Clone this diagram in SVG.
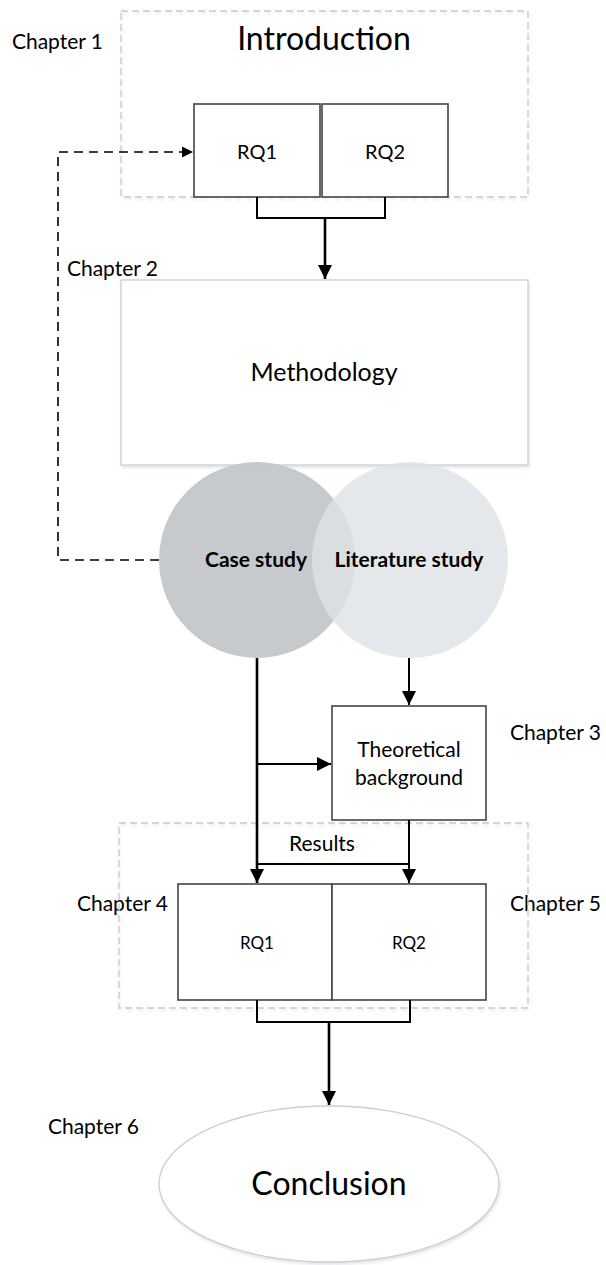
<svg xmlns="http://www.w3.org/2000/svg" width="606" height="1265" viewBox="0 0 606 1265">
  <style>
    text { font-family: Lato, "Open Sans", "Liberation Sans", sans-serif; fill: #000; }
    .chap { font-size: 21px; }
    .group { fill: none; stroke: #c9c9c9; stroke-width: 1.3; stroke-dasharray: 7 4; }
    .box { fill: #fff; stroke: #444; stroke-width: 1.6; }
    .wire { fill: none; stroke: #000; stroke-width: 2.6; }
    .thin { fill: none; stroke: #000; stroke-width: 2; }
    .dash { fill: none; stroke: #000; stroke-width: 1.6; stroke-dasharray: 9 6; }
    .mid { text-anchor: middle; }
  </style>
  <defs>
    <marker id="arrow" viewBox="0 0 10 10" refX="10" refY="5" markerWidth="5.5" markerHeight="5.5" markerUnits="strokeWidth" orient="auto">
      <path d="M0,0 L10,5 L0,10 z" fill="#000"/>
    </marker>
    <marker id="arrowSm" viewBox="0 0 10 10" refX="10" refY="5" markerWidth="7" markerHeight="7" markerUnits="strokeWidth" orient="auto">
      <path d="M0,0 L10,5 L0,10 z" fill="#000"/>
    </marker>
    <filter id="shadow" x="-5%" y="-5%" width="110%" height="110%">
      <feDropShadow dx="1" dy="2" stdDeviation="1.5" flood-color="#9fb4c8" flood-opacity="0.35"/>
    </filter>
  </defs>

  <!-- chapter labels -->
  <g id="chapter-labels">
    <text class="chap" x="12" y="49" textLength="91">Chapter 1</text>
    <text class="chap" x="67" y="276" textLength="91">Chapter 2</text>
    <text class="chap" x="510" y="740" textLength="91">Chapter 3</text>
    <text class="chap" x="77" y="911" textLength="91">Chapter 4</text>
    <text class="chap" x="510" y="911" textLength="91">Chapter 5</text>
    <text class="chap" x="48" y="1134" textLength="91">Chapter 6</text>
  </g>

  <!-- Chapter 1: introduction with research questions -->
  <g id="introduction">
    <rect class="group" x="121" y="11" width="407" height="186" filter="url(#shadow)"/>
    <text class="mid" x="324" y="50" font-size="32">Introduction</text>
  </g>
  <g id="intro-rq1">
    <rect class="box" x="194" y="104" width="126" height="93"/>
    <text class="mid" x="257" y="159" font-size="20">RQ1</text>
  </g>
  <g id="intro-rq2">
    <rect class="box" x="322" y="104" width="126" height="93"/>
    <text class="mid" x="385" y="159" font-size="20">RQ2</text>
  </g>

  <!-- Chapter 2: methodology -->
  <g id="methodology">
    <rect x="121" y="280" width="407" height="185" fill="#fff" stroke="#cfcfcf" stroke-width="1.3" filter="url(#shadow)"/>
    <text class="mid" x="324" y="381" font-size="25">Methodology</text>
  </g>

  <!-- study approaches -->
  <g id="case-study">
    <circle cx="257" cy="560" r="98" fill="#c4c7ca" fill-opacity="0.95"/>
  </g>
  <g id="literature-study">
    <circle cx="410" cy="560" r="98" fill="#dfe2e6" fill-opacity="0.8"/>
  </g>
  <g id="study-labels">
    <text class="mid" x="256" y="567" font-size="21" font-weight="bold">Case study</text>
    <text class="mid" x="409" y="567" font-size="21" font-weight="bold">Literature study</text>
  </g>

  <!-- Chapter 3: theoretical background -->
  <g id="theoretical-background">
    <rect class="box" x="332" y="706" width="154" height="114"/>
    <text class="mid" x="409" y="757" font-size="21">Theoretical</text>
    <text class="mid" x="409" y="785" font-size="21">background</text>
  </g>

  <!-- Chapters 4-5: results -->
  <g id="results">
    <rect class="group" x="119" y="823" width="409" height="185" filter="url(#shadow)"/>
    <text class="mid" x="322" y="851" font-size="21">Results</text>
  </g>
  <g id="results-rq1">
    <rect class="box" x="178" y="884" width="154" height="116"/>
    <text class="mid" x="257" y="949" font-size="17">RQ1</text>
  </g>
  <g id="results-rq2">
    <rect class="box" x="332" y="884" width="154" height="116"/>
    <text class="mid" x="409" y="949" font-size="17">RQ2</text>
  </g>

  <!-- Chapter 6: conclusion -->
  <g id="conclusion">
    <ellipse cx="329" cy="1184" rx="170" ry="78" fill="#fff" stroke="#cfcfcf" stroke-width="1.3" filter="url(#shadow)"/>
    <text class="mid" x="329" y="1195" font-size="32">Conclusion</text>
  </g>

  <!-- connectors -->
  <g id="connectors">
    <!-- research questions merge into methodology -->
    <path class="thin" d="M257,197 V218 H385 V197"/>
    <path class="wire" d="M325,218 V279" marker-end="url(#arrow)"/>
    <!-- case study feeds back into RQ1 -->
    <path class="dash" d="M159,560 H58 V152 H193" marker-end="url(#arrowSm)"/>
    <!-- case study down to results RQ1 -->
    <path class="wire" d="M257,658 V883" marker-end="url(#arrow)"/>
    <path class="thin" d="M257,764 H331" marker-end="url(#arrowSm)"/>
    <!-- literature study to theoretical background -->
    <path class="thin" d="M409,658 V705" marker-end="url(#arrowSm)"/>
    <!-- theoretical background to results RQ2 -->
    <path class="thin" d="M409,820 V883" marker-end="url(#arrowSm)"/>
    <path class="thin" d="M257,864 H409"/>
    <!-- results merge into conclusion -->
    <path class="thin" d="M257,1000 V1022 H410 V1000"/>
    <path class="wire" d="M329,1022 V1105" marker-end="url(#arrow)"/>
  </g>
</svg>
